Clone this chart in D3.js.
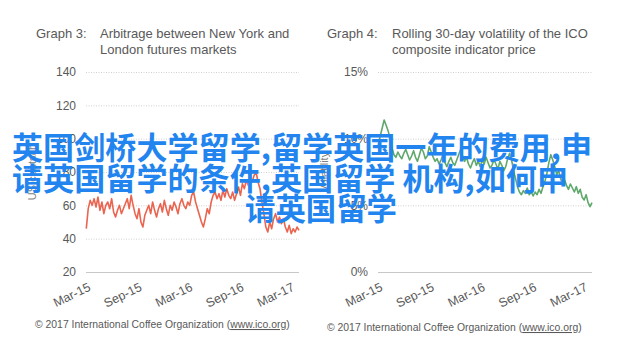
<!DOCTYPE html>
<html>
<head>
<meta charset="utf-8">
<script src="https://cdn.jsdelivr.net/npm/d3@7"></script>
<style>
  html, body { margin: 0; padding: 0; background: #fff; }
  svg text { font-family: "Liberation Sans", Arial, sans-serif; }
  .grid line { stroke: #d0d0d0; stroke-dasharray: 1,1.5; }
  .grid .base line { stroke: #c8c8c8; stroke-dasharray: none; }
  .overlay { font-family: "Noto Sans CJK SC", sans-serif !important; font-weight: 700; fill: #2284ee; }
</style>
</head>
<body>
<svg id="chart" width="640" height="347"></svg>
<script>
// weekly samples starting 2 Mar 2015
const startDate = new Date(2015, 2, 2);

// Graph 3: arbitrage, US cents/lb
const arbitrage = [
  46, 58, 63, 60, 64, 59,
  65, 57, 62, 55, 60,
  62, 58, 64, 56, 53,
  57, 60, 55, 58, 61,
  64, 58, 66, 60, 55,
  52, 58, 50, 47, 54,
  57, 60, 55, 62, 57,
  53, 58, 61, 56, 63,
  58, 54, 60, 57, 62,
  59, 55, 61, 64, 60,
  58, 62, 60, 66, 68,
  62, 58, 54, 50, 47,
  52, 58, 55, 62, 66,
  68, 64, 67, 63, 69,
  65, 70, 66, 64, 68,
  63, 67, 71, 66, 73,
  70, 75, 72, 76, 74,
  78, 80, 74, 70, 62,
  55, 47, 44, 50, 46,
  52, 55, 50, 53, 49,
  52, 47, 44, 48, 43,
  46, 44, 47, 45
];

// Graph 4: rolling 30-day volatility, percent
const volatility = [
  9.5, 10.2, 10.8, 11.4, 11.0,
  10.6, 10.0, 9.3, 8.8, 8.6,
  9.0, 8.7, 8.5, 8.9, 9.2,
  8.8, 8.4, 8.7, 9.1, 8.6,
  8.3, 8.8, 9.3, 9.0, 8.5,
  8.7, 9.4, 9.0, 8.6, 8.3,
  8.5, 8.1, 8.4, 8.8, 8.2,
  7.9, 8.3, 8.6, 8.2, 8.0,
  8.4, 8.8, 9.2, 8.7, 8.3,
  8.6, 8.1, 7.8, 8.2, 8.5,
  8.0, 8.3, 7.9, 8.4, 8.1,
  8.6, 8.2, 7.8, 8.0, 8.4,
  8.1, 7.7, 8.3, 8.0, 7.6,
  7.9, 8.5, 8.9, 8.4, 7.6,
  7.0, 6.4, 6.0, 5.8, 6.1,
  5.9, 6.3, 5.8, 6.0, 5.7,
  6.0, 5.8, 6.2, 5.9, 6.4,
  6.8, 7.4, 8.2, 8.8, 8.4,
  7.9, 7.3, 7.6, 7.0, 6.6,
  6.9, 6.5, 6.2, 6.6, 6.3,
  6.0, 6.4, 5.9, 6.2, 5.6,
  5.4, 5.8, 5.2, 4.9, 5.2
];

const xTicks = [new Date(2015, 2, 1), new Date(2015, 8, 1), new Date(2016, 2, 1), new Date(2016, 8, 1), new Date(2017, 2, 1)];
const leftTicks = [20, 40, 60, 80, 100, 120, 140];
const rightTicks = [0, 5, 10, 15];

const overlayLines = [
  "英国剑桥大学留学,留学英国一年的费用,申",
  "请英国留学的条件,英国留学 机构,如何申",
  "请英国留学"
];

const svg = d3.select("#chart");
const TOP = 72, BOTTOM = 272;
const xDomain = [new Date(2015, 2, 1), new Date(2017, 3, 3)];

function drawPanel(opt) {
    const g = svg.append("g");
    const x = d3.scaleTime().domain(xDomain).range([opt.x0, opt.x1]);
    const y = d3.scaleLinear().domain(opt.yDomain).range([BOTTOM, TOP]);

    // title
    const title = g.append("text").attr("font-size", 13).attr("fill", "#595959");
    title.append("tspan").attr("x", opt.tx).attr("y", 38).text(opt.label);
    title.append("tspan").attr("x", opt.tx2).attr("y", 38).text(opt.title[0]);
    title.append("tspan").attr("x", opt.tx2).attr("y", 54).text(opt.title[1]);

    // y axis + grid
    const yAxis = g.append("g")
        .attr("class", "grid")
        .attr("transform", `translate(${opt.x0},0)`)
        .call(d3.axisLeft(y).tickValues(opt.yTicks).tickFormat(opt.fmt)
            .tickSizeInner(-(opt.x1 - opt.x0)).tickSizeOuter(0).tickPadding(10));
    yAxis.select(".domain").remove();
    yAxis.selectAll(".tick").classed("base", (d, i) => i === 0);
    yAxis.selectAll("text").attr("font-size", 12).attr("fill", "#595959")
        .style("font-family", "'Liberation Sans', Arial, sans-serif");

    // y title (mostly hidden in the original)
    g.append("text")
        .attr("transform", `translate(${opt.x0 - 50},172) rotate(-90)`)
        .attr("text-anchor", "middle")
        .attr("font-size", 11)
        .attr("fill", "#7f7f7f")
        .text(opt.yTitle);

    // x axis
    const xAxis = g.append("g")
        .attr("transform", `translate(0,${BOTTOM})`)
        .call(d3.axisBottom(x).tickValues(xTicks).tickFormat(d3.timeFormat("%b-%y")).tickSize(0));
    xAxis.select(".domain").remove();
    xAxis.selectAll("text")
        .attr("font-size", 12.5)
        .attr("fill", "#595959")
        .attr("text-anchor", "end")
        .attr("dy", 0)
        .attr("y", 0)
        .attr("transform", "translate(5,18) rotate(-26)")
        .style("font-family", "'Liberation Sans', Arial, sans-serif");

    // series line
    const line = d3.line()
        .x((d, i) => x(d3.timeWeek.offset(startDate, i)))
        .y(d => y(d));
    g.append("path")
        .datum(opt.values)
        .attr("fill", "none")
        .attr("stroke", opt.color)
        .attr("stroke-width", 1.6)
        .attr("stroke-linejoin", "round")
        .attr("d", line);

    // footer
    const foot = g.append("text")
        .attr("x", opt.fx)
        .attr("y", opt.fy)
        .attr("font-size", 10.4)
        .attr("fill", "#595959");
    foot.append("tspan").text("© 2017 International Coffee Organization (");
    foot.append("tspan").attr("text-decoration", "underline").text("www.ico.org");
    foot.append("tspan").text(")");
}

drawPanel({
    x0: 86, x1: 299, yDomain: [20, 140], yTicks: leftTicks, fmt: d3.format("d"),
    tx: 36, tx2: 100, label: "Graph 3:",
    title: ["Arbitrage between New York and", "London futures markets"],
    yTitle: "US cents/lb", values: arbitrage, color: "#ea6550",
    fx: 35, fy: 328
});

drawPanel({
    x0: 378, x1: 592, yDomain: [0, 15], yTicks: rightTicks, fmt: d => d + "%",
    tx: 327, tx2: 392, label: "Graph 4:",
    title: ["Rolling 30-day volatility of the ICO", "composite indicator price"],
    yTitle: "Volatility", values: volatility, color: "#5fa86c",
    fx: 327, fy: 331
});

// overlaid caption
const overlay = [
    { x: 12, y: 159, w: 580 },
    { x: 12, y: 190, w: 556 },
    { x: 245, y: 220, w: 152 }
];
svg.append("g").selectAll("text")
    .data(overlayLines)
    .enter().append("text")
    .attr("class", "overlay")
    .attr("x", (d, i) => overlay[i].x)
    .attr("y", (d, i) => overlay[i].y)
    .attr("font-size", 31)
    .attr("textLength", (d, i) => overlay[i].w)
    .attr("lengthAdjust", "spacingAndGlyphs")
    .text(d => d);
</script>
</body>
</html>
